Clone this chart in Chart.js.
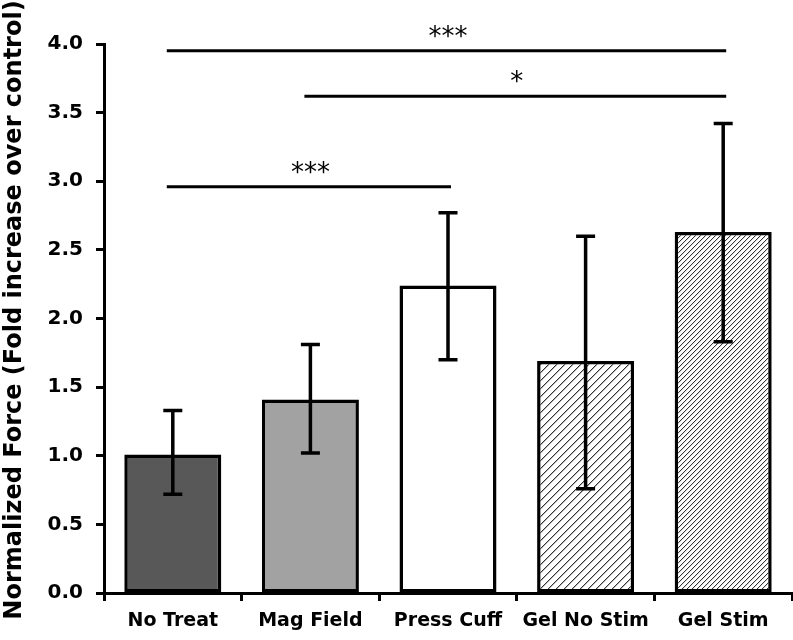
<!DOCTYPE html>
<html>
<head>
<meta charset="utf-8">
<script src="https://cdn.jsdelivr.net/npm/chart.js@4/dist/chart.umd.min.js"></script>
<style>
  html, body { margin: 0; padding: 0; background: #ffffff; }
  #wrap { width: 793px; height: 640px; }
</style>
</head>
<body>
<div id="wrap"><canvas id="chart" width="793" height="640"></canvas></div>
<script>
// ---- Data ----
const categories = ['No Treat', 'Mag Field', 'Press Cuff', 'Gel No Stim', 'Gel Stim'];
const meanValues = [1.01, 1.41, 2.24, 1.69, 2.63];
const errorLow   = [0.72, 1.02, 1.70, 0.76, 1.83];
const errorHigh  = [1.33, 1.81, 2.77, 2.60, 3.42];
const compareFrom  = [0, 1, 0];
const compareTo    = [4, 4, 2];
const compareY     = [3.95, 3.62, 2.96];
const compareLabel = ['***', '*', '***'];
const yTitle = 'Normalized Force (Fold increase over control)';

// ---- Fill styles ----
function hatch(spacing, soft) {
  const c = document.createElement('canvas');
  c.width = spacing; c.height = spacing;
  const g = c.getContext('2d');
  const img = g.createImageData(spacing, spacing);
  for (let y = 0; y < spacing; y++) {
    for (let x = 0; x < spacing; x++) {
      const k = (x + y) % spacing;
      let v = 255;
      if (k === 0) v = 50;
      else if (k === 1) v = soft;
      const p = (y * spacing + x) * 4;
      img.data[p] = v; img.data[p + 1] = v; img.data[p + 2] = v; img.data[p + 3] = 255;
    }
  }
  g.putImageData(img, 0, 0);
  return g.createPattern(c, 'repeat');
}
const ctx = document.getElementById('chart').getContext('2d');
const fills = ['#585858', '#a2a2a2', '#ffffff', hatch(8, 180), hatch(5, 225)];

const FONT = "'DejaVu Sans', 'Liberation Sans', Arial, sans-serif";

// ---- Plugins ----
const errorBarPlugin = {
  id: 'errorBars',
  afterDatasetsDraw(chart) {
    const meta = chart.getDatasetMeta(0);
    const y = chart.scales.y;
    const c = chart.ctx;
    c.save();
    c.strokeStyle = '#000';
    c.lineWidth = 3.5;
    c.lineCap = 'butt';
    meta.data.forEach((bar, i) => {
      const x = bar.x;
      const yh = y.getPixelForValue(errorHigh[i]);
      const yl = y.getPixelForValue(errorLow[i]);
      const cap = 9.5;
      c.beginPath();
      c.moveTo(x, yh); c.lineTo(x, yl);
      c.moveTo(x - cap, yh); c.lineTo(x + cap, yh);
      c.moveTo(x - cap, yl); c.lineTo(x + cap, yl);
      c.stroke();
    });
    c.restore();
  }
};

const sigPlugin = {
  id: 'significance',
  afterDraw(chart) {
    const xs = chart.scales.x, ys = chart.scales.y;
    const c = chart.ctx;
    c.save();
    c.strokeStyle = '#000';
    c.fillStyle = '#000';
    c.lineWidth = 3;
    c.font = "26px " + FONT;
    c.textAlign = 'center';
    c.textBaseline = 'alphabetic';
    compareY.forEach((v, k) => {
      const x1 = xs.getPixelForValue(compareFrom[k]);
      const x2 = xs.getPixelForValue(compareTo[k]);
      const yy = ys.getPixelForValue(v);
      c.beginPath();
      c.moveTo(x1 - 6, yy); c.lineTo(x2 + 3, yy);
      c.stroke();
      c.fillText(compareLabel[k], (x1 + x2) / 2, yy - 6);
    });
    // y-axis title
    c.translate(21, 310);
    c.rotate(-Math.PI / 2);
    c.font = "bold 24px " + FONT;
    c.textAlign = 'center';
    c.textBaseline = 'alphabetic';
    c.fillText(yTitle, 0, 0);
    c.restore();
  }
};

new Chart(ctx, {
  type: 'bar',
  data: {
    labels: categories,
    datasets: [{
      data: meanValues,
      backgroundColor: fills,
      borderColor: '#000',
      borderWidth: 3.5,
      borderSkipped: false,
      categoryPercentage: 1.0,
      barPercentage: 0.705
    }]
  },
  options: {
    responsive: false,
    animation: false,
    devicePixelRatio: 1,
    layout: { padding: { top: 44, right: 1, left: 0, bottom: 0 } },
    plugins: {
      legend: { display: false },
      tooltip: { enabled: false },
      title: { display: false }
    },
    scales: {
      x: {
        afterFit(scale) { scale.height = 47; },
        grid: {
          offset: true,
          drawOnChartArea: false,
          drawTicks: true,
          tickLength: 8,
          tickWidth: 3,
          tickColor: '#000'
        },
        border: { display: true, width: 3, color: '#000' },
        ticks: {
          color: '#000',
          padding: 9,
          font: { family: FONT, size: 19, weight: 'bold' }
        }
      },
      y: {
        min: 0,
        max: 4,
        afterFit(scale) { scale.width = 104; },
        grid: {
          drawOnChartArea: false,
          drawTicks: true,
          tickLength: 8,
          tickWidth: 3,
          tickColor: '#000'
        },
        border: { display: true, width: 3, color: '#000' },
        ticks: {
          stepSize: 0.5,
          color: '#000',
          padding: 13,
          font: { family: FONT, size: 20, weight: 'bold' },
          callback: (v) => Number(v).toFixed(1)
        },
        title: { display: false }
      }
    }
  },
  plugins: [errorBarPlugin, sigPlugin]
});
</script>
</body>
</html>
